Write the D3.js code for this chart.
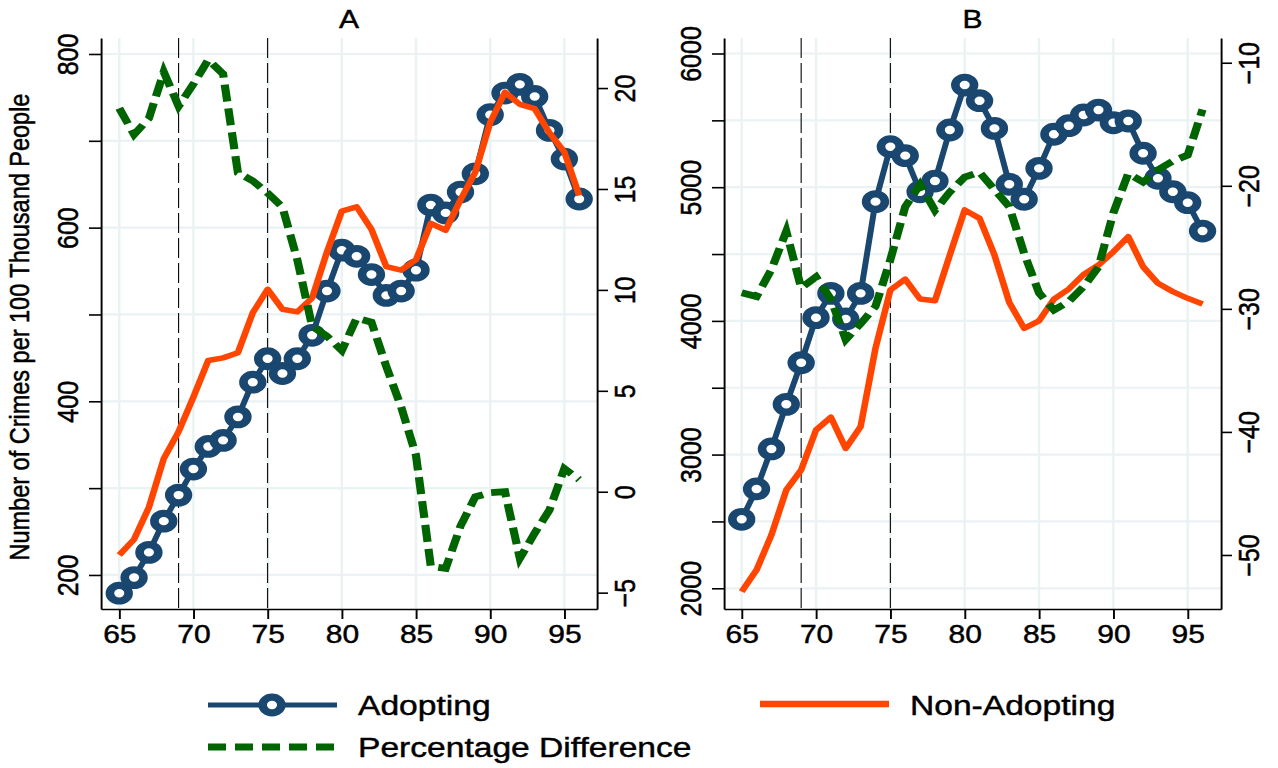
<!DOCTYPE html>
<html>
<head>
<meta charset="utf-8">
<script src="https://cdn.jsdelivr.net/npm/d3@7"></script>
<style>
  body { margin: 0; background: #fff; }
  text { font-family: "Liberation Sans", Arial, Helvetica, sans-serif; fill: #000; stroke: #000; stroke-width: 0.45px; }
</style>
</head>
<body>
<svg width="1278" height="768"></svg>
<script>
// years 1965..1996
var years = [65, 66, 67, 68, 69, 70, 71, 72, 73, 74, 75, 76, 77, 78, 79, 80,
             81, 82, 83, 84, 85, 86, 87, 88, 89, 90, 91, 92, 93, 94, 95, 96];

// panel A values (crimes per 100k, left axis / % difference, right axis)
var adoptA = [179, 197, 226, 262, 292, 322, 348, 355, 382, 422, 449, 432, 449, 476, 527, 574,
              567, 546, 522, 527, 551, 626, 617, 641, 662, 730, 755, 765, 751, 712, 679, 633];
var nonA   = [223, 241, 278, 334, 365, 405, 447, 450, 456, 502, 529, 506, 503, 519, 572, 619,
              624, 598, 555, 551, 563, 605, 597, 632, 664, 721, 756, 742, 737, 709, 687, 637];
var diffA  = [19.0, 17.7, 18.5, 20.8, 19.1, 20.2, 21.4, 20.7, 15.8, 15.4, 14.8, 14.1, 11.5, 8.2, 7.7, 7.0,
              8.6, 8.4, 6.2, 4.2, 1.8, -3.7, -3.8, -1.7, -0.25, -0.05, 0.0, -3.3, -2.05, -0.9, 1.15, 0.6];

// panel B values
var adoptB = [2516, 2743, 3042, 3376, 3687, 4024, 4206, 4014, 4206, 4892, 5303, 5236, 4966, 5046, 5428, 5764,
              5647, 5440, 5022, 4910, 5141, 5396, 5460, 5540, 5577, 5482, 5495, 5254, 5067, 4966, 4884, 4672];
var nonB   = [1975, 2137, 2399, 2735, 2885, 3184, 3279, 3046, 3209, 3795, 4231, 4312, 4163, 4151, 4493, 4830,
              4767, 4493, 4138, 3944, 4000, 4163, 4238, 4347, 4418, 4517, 4630, 4405, 4281, 4219, 4169, 4126];
var diffB  = [-28.7, -29.0, -26.8, -23.7, -28.3, -27.4, -29.2, -32.5, -31.2, -29.8, -26.0, -21.7, -19.9, -22.0, -20.5, -19.3,
              -18.9, -20.3, -21.7, -25.5, -28.7, -30.1, -29.4, -28.2, -26.6, -22.2, -19.0, -19.7, -18.7, -18.0, -17.5, -13.8];

// ticks
var xTicks = [65, 70, 75, 80, 85, 90, 95];
var refYears = [69, 75];
var gridA = [200, 300, 400, 500, 600, 700, 800];
var labelsA = [200, 400, 600, 800];
var rightA = [-5, 0, 5, 10, 15, 20];
var gridB = [2000, 2500, 3000, 3500, 4000, 4500, 5000, 5500, 6000];
var labelsB = [2000, 3000, 4000, 5000, 6000];
var rightB = [-50, -40, -30, -20, -10];

var NAVY = "#1a476f", ORANGE = "#ff4500", GREEN = "#006400", GRID = "#eaf2f3";

// the picture is stretched sideways, so draw narrower and scale x
var SX = 1.2;
var plotTop = 38, plotBottom = 609;

var svg = d3.select("svg");
svg.append("rect").attr("width", 1278).attr("height", 768).attr("fill", "#fff");
var root = svg.append("g").attr("transform", "scale(" + SX + ",1)");

var panels = [
  { title: "A", left: 101, right: 597, xDom: [63.77, 97.2], yDom: [160.8, 818.4], rDom: [-5.81, 22.48],
    grid: gridA, labels: labelsA, rTicks: rightA, adopt: adoptA, non: nonA, diff: diffA },
  { title: "B", left: 724, right: 1221, xDom: [63.81, 97.24], yDom: [1845, 6116], rDom: [-54.39, -7.99],
    grid: gridB, labels: labelsB, rTicks: rightB, adopt: adoptB, non: nonB, diff: diffB }
];

// circle marker, drawn inside the stretched group
function marker(parent, cx, cy) {
  parent.append("circle")
    .attr("cx", cx).attr("cy", cy).attr("r", 7.8)
    .attr("fill", "#fff").attr("stroke", NAVY).attr("stroke-width", 7.2);
}

function styleAxis(ax) {
  ax.attr("font-size", 25).attr("font-family", null);
  ax.select(".domain").attr("stroke", "#000").attr("stroke-width", 1.6);
  ax.selectAll(".tick line").attr("stroke", "#000").attr("stroke-width", 1.6);
}

panels.forEach(function (p) {
  var g = root.append("g");
  var x = d3.scaleLinear().domain(p.xDom).range([p.left / SX, p.right / SX]);
  var y = d3.scaleLinear().domain(p.yDom).range([plotBottom, plotTop]);
  var y2 = d3.scaleLinear().domain(p.rDom).range([plotBottom, plotTop]);

  // gridlines
  g.selectAll(".hgrid").data(p.grid).enter().append("line")
    .attr("x1", x.range()[0]).attr("x2", x.range()[1])
    .attr("y1", function (d) { return y(d); }).attr("y2", function (d) { return y(d); })
    .attr("stroke", GRID).attr("stroke-width", 2.2);
  g.selectAll(".vgrid").data(xTicks).enter().append("line")
    .attr("x1", function (d) { return x(d); }).attr("x2", function (d) { return x(d); })
    .attr("y1", plotTop).attr("y2", plotBottom)
    .attr("stroke", GRID).attr("stroke-width", 2);

  // policy years
  g.selectAll(".ref").data(refYears).enter().append("line")
    .attr("x1", function (d) { return x(d); }).attr("x2", function (d) { return x(d); })
    .attr("y1", plotTop).attr("y2", plotBottom)
    .attr("stroke", "#000").attr("stroke-width", 0.9).attr("stroke-dasharray", "20,5");

  var lineL = d3.line().x(function (d, i) { return x(years[i]); }).y(function (d) { return y(d); });
  var lineR = d3.line().x(function (d, i) { return x(years[i]); }).y(function (d) { return y2(d); });

  // adopting
  g.append("path").datum(p.adopt).attr("d", lineL)
    .attr("fill", "none").attr("stroke", NAVY).attr("stroke-width", 5).attr("stroke-linejoin", "round");
  var mk = g.append("g");
  p.adopt.forEach(function (d, i) { marker(mk, x(years[i]), y(d)); });

  // non-adopting
  g.append("path").datum(p.non).attr("d", lineL)
    .attr("fill", "none").attr("stroke", ORANGE).attr("stroke-width", 5.5).attr("stroke-linejoin", "round");

  // percentage difference
  g.append("path").datum(p.diff).attr("d", lineR)
    .attr("fill", "none").attr("stroke", GREEN).attr("stroke-width", 6.8)
    .attr("stroke-dasharray", "17,7");

  // axes
  var axL = g.append("g").attr("transform", "translate(" + x.range()[0] + ",0)")
    .call(d3.axisLeft(y).tickValues(p.grid).tickSize(12 / SX).tickSizeOuter(0)
      .tickFormat(function (d) { return p.labels.indexOf(d) >= 0 ? d : ""; }));
  styleAxis(axL);
  axL.selectAll("text").attr("x", 0).attr("dy", 0).attr("text-anchor", "middle")
    .attr("transform", "translate(" + (-23 / SX) + ",0) rotate(-90)");

  var axR = g.append("g").attr("transform", "translate(" + x.range()[1] + ",0)")
    .call(d3.axisRight(y2).tickValues(p.rTicks).tickSize(11 / SX).tickSizeOuter(0));
  styleAxis(axR);
  axR.selectAll("text").attr("x", 0).attr("dy", 0).attr("text-anchor", "middle")
    .attr("transform", "translate(" + (38 / SX) + ",0) rotate(-90)");

  var axB = g.append("g").attr("transform", "translate(0," + plotBottom + ")")
    .call(d3.axisBottom(x).tickValues(xTicks).tickSize(10).tickSizeOuter(0));
  styleAxis(axB);
  axB.selectAll("text").attr("y", 34).attr("dy", 0);

  // title
  g.append("text").attr("x", (p.left + p.right) / 2 / SX).attr("y", 28)
    .attr("text-anchor", "middle").attr("font-size", 25).text(p.title);
});

// y axis title
root.append("text")
  .attr("transform", "translate(" + (29 / SX) + ",327) rotate(-90)")
  .attr("text-anchor", "middle").attr("font-size", 23.5)
  .text("Number of Crimes per 100 Thousand People");

// legend
var leg = root.append("g");
leg.append("line").attr("x1", 208 / SX).attr("x2", 337 / SX).attr("y1", 705).attr("y2", 705)
  .attr("stroke", NAVY).attr("stroke-width", 5);
marker(leg, 272 / SX, 705);
leg.append("text").attr("x", 358 / SX).attr("y", 715).attr("font-size", 28).text("Adopting");

leg.append("line").attr("x1", 760 / SX).attr("x2", 889 / SX).attr("y1", 704).attr("y2", 704)
  .attr("stroke", ORANGE).attr("stroke-width", 6.5);
leg.append("text").attr("x", 910 / SX).attr("y", 715).attr("font-size", 28).text("Non-Adopting");

leg.append("line").attr("x1", 208 / SX).attr("x2", 337 / SX).attr("y1", 747).attr("y2", 747)
  .attr("stroke", GREEN).attr("stroke-width", 7).attr("stroke-dasharray", "15,7.5");
leg.append("text").attr("x", 358 / SX).attr("y", 757).attr("font-size", 28).text("Percentage Difference");
</script>
</body>
</html>
